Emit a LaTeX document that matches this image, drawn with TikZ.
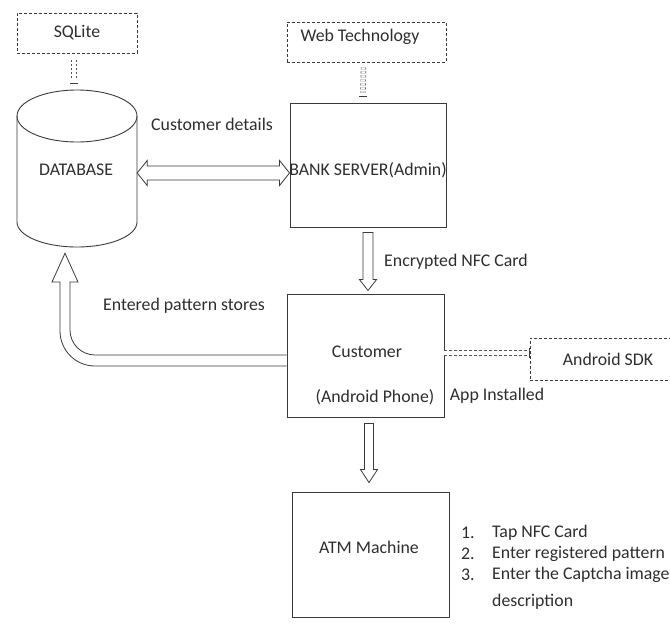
\documentclass[tikz,border=0pt]{standalone}
\usepackage{fontspec}
\setmainfont{Carlito}
\usetikzlibrary{calc}
\definecolor{ln}{HTML}{3A3A3A}
\definecolor{tx}{HTML}{2E2E2E}
\definecolor{dl}{HTML}{555555}
\newcommand\hollowarrow[5]{%
  \coordinate (habase) at ($(#2)!#5!(#1)$);
  \draw[blk] ($(#1)!#3!90:(#2)$) -- ($(habase)!#3!90:(#2)$) -- ($(habase)!#4!90:(#2)$) -- (#2)
    -- ($(habase)!#4!-90:(#2)$) -- ($(habase)!#3!-90:(#2)$) -- ($(#1)!#3!-90:(#2)$) -- cycle;}
\newcommand\hollowdarrow[5]{%
  \coordinate (hdA) at ($(#1)!#5!(#2)$);
  \coordinate (hdB) at ($(#2)!#5!(#1)$);
  \draw[blk] (#1) -- ($(hdA)!#4!90:(#2)$) -- ($(hdA)!#3!90:(#2)$) -- ($(hdB)!#3!90:(#2)$)
    -- ($(hdB)!#4!90:(#2)$) -- (#2) -- ($(hdB)!#4!-90:(#2)$) -- ($(hdB)!#3!-90:(#2)$)
    -- ($(hdA)!#3!-90:(#2)$) -- ($(hdA)!#4!-90:(#2)$) -- cycle;}
\begin{document}
\begin{tikzpicture}[x=1pt,y=-1pt,
  txt/.style={font=\fontsize{17.8}{21}\selectfont, text=tx, inner sep=0pt},
  sbox/.style={draw=ln, line width=0.9pt, inner sep=0pt},
  dbox/.style={draw=ln, line width=0.8pt, dash pattern=on 3pt off 2pt, inner sep=0pt, font=\fontsize{17.8}{21}\selectfont, text=tx},
  ghost/.style={inner sep=0pt},
  blk/.style={draw=ln, line width=0.8pt, line join=miter, fill=white},
  ddash/.style={draw=dl, line width=0.7pt, dash pattern=on 3pt off 2pt, double=white, double distance=4pt}]
\useasboundingbox (0,0) rectangle (670,630);
\clip (0,0) rectangle (670,630);
\fill[white] (0,0) rectangle (670,630);

% boxes
\node[dbox, minimum width=120pt, minimum height=40pt] (sqlite) at (77,33) {SQLite};
\node[dbox, minimum width=159pt, minimum height=40pt] (web) at (366.5,42) {};
\node[txt] (webt) at (360,37) {Web Technology};
\node[ghost, minimum width=120pt, minimum height=157pt] (db) at (77,168.5) {};
\draw[ln, line width=0.9pt] (17,116) -- (17,222) arc[start angle=180, end angle=360, x radius=60pt, y radius=25pt] -- (137,116);
\draw[ln, line width=0.9pt] (77,116) ellipse[x radius=60pt, y radius=26pt];
\node[txt] (dbt) at (76,170) {DATABASE};
\node[sbox, minimum width=156pt, minimum height=124pt] (bank) at (368,165) {};
\node[txt] (bankt) at (368,170) {BANK SERVER(Admin)};
\node[sbox, minimum width=157pt, minimum height=123pt] (cust) at (365.5,355.5) {};
\node[txt] (custt1) at (367,352) {Customer};
\node[txt] (custt2) at (375,397) {(Android Phone)};
\node[dbox, minimum width=160pt, minimum height=42pt] (sdk) at (610,359) {};
\node[txt] (sdkt) at (608,359) {Android SDK};
\node[sbox, minimum width=157pt, minimum height=125pt] (atm) at (370.5,554.5) {};
\node[txt] (atmt) at (369,547) {ATM Machine};

% labels
\node[txt] (lcd) at (212,124) {Customer details};
\node[txt] (lenc) at (456,262) {Encrypted NFC Card};
\node[txt] (lent) at (184,306) {Entered pattern stores};
\node[txt] (lapp) at (497,396) {App Installed};
\node[txt, anchor=west] (s1n) at (461,533) {1.};
\node[txt, anchor=west] (s1) at (492,533) {Tap NFC Card};
\node[txt, anchor=west] (s2n) at (461,554) {2.};
\node[txt, anchor=west] (s2) at (492,554) {Enter registered pattern};
\node[txt, anchor=west] (s3n) at (461,575) {3.};
\node[txt, anchor=west] (s3) at (492,575) {Enter the Captcha image};
\node[txt, anchor=west] (s4) at (492,602) {description};

% small dashed connectors
\draw[ddash, dash pattern=on 2pt off 2pt] ($(sqlite.south)+(-3,7)$) -- ($(db.north)+(-3,-10)$);
\draw[ln, line width=1pt] ($(db.north)+(-7,-6)$) -- ($(db.north)+(1,-6)$);
\draw[ddash, dash pattern=on 2pt off 2pt] ($(web.south)+(-3,5)$) -- ($(bank.north)+(-5,-10)$);
\draw[ln, line width=1pt] ($(bank.north)+(-9,-6)$) -- ($(bank.north)+(-1,-6)$);
\draw[ddash] (cust.east |- 0,353) -- (sdk.west |- 0,353);
\draw[ln, line width=0.8pt] ($(sdk.west |- 0,353)+(0,-5)$) -- ($(sdk.west |- 0,353)+(0,5)$);

% hollow arrows
\coordinate (h1) at ($(db.east)+(0,4.5)$);
\coordinate (h2) at ($(bank.west)+(0,8)$);
\hollowdarrow{h1}{h2}{7pt}{12.5pt}{10pt}
\coordinate (v1s) at ($(bank.south)+(0,5)$);
\coordinate (v1t) at ($(bank.south |- cust.north)+(0,-3)$);
\hollowarrow{v1s}{v1t}{5pt}{8.5pt}{11pt}
\coordinate (v2s) at ($(cust.south)+(3.5,6)$);
\coordinate (v2t) at ($(v2s |- atm.north)+(0,-9)$);
\hollowarrow{v2s}{v2t}{4.5pt}{8.5pt}{13pt}
\coordinate (ctip) at ($(db.south)+(-12,6)$);
\draw[blk] ($(cust.west)+(0,-0.5)$) -- (95,355) arc[start angle=270, end angle=180, radius=25pt]
  -- (70,282) -- (78,282) -- (ctip) -- (52,282) -- (60,282) -- (60,331)
  arc[start angle=180, end angle=270, radius=35pt] -- ($(cust.west)+(0,10.5)$);
\end{tikzpicture}
\end{document}
